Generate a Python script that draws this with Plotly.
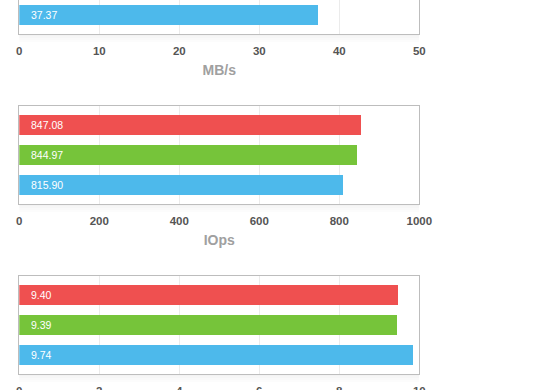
import plotly.graph_objects as go

# ---- data ----
series_colors = ["#4DB9EB", "#76C43A", "#EF5050"]  # blue (bottom), green, red (top)

mbps_values = [37.37]
mbps_labels = ["37.37"]

iops_values = [809, 844, 854]
iops_labels = ["815.90", "844.97", "847.08"]

lat_values = [9.84, 9.44, 9.47]
lat_labels = ["9.74", "9.39", "9.40"]

x_ranges = [[0, 50], [0, 1000], [0, 10]]
x_dticks = [10, 200, 2]
x_titles = ["MB/s", "IOps", ""]

W, H = 560, 390
FONT = "Liberation Sans, Arial, Helvetica, sans-serif"

def py(px):
    return 1 - px / H

x_dom = [19.3 / W, 419.3 / W]
cat_px = 29.97
y_doms = [[py(34.3), 1.0], [py(204.0), py(105.7)], [py(374.0), py(275.7)]]
y_ranges = [[-0.64, -0.64 + 34.3 / cat_px], [-0.64, 2.64], [-0.64, 2.64]]

fig = go.Figure()
datasets = [(mbps_values, mbps_labels), (iops_values, iops_labels), (lat_values, lat_labels)]
annotations = []
shapes = []
for i, (vals, labs) in enumerate(datasets):
    xa = "x" if i == 0 else f"x{i+1}"
    ya = "y" if i == 0 else f"y{i+1}"
    cats = list(range(len(vals)))
    fig.add_trace(go.Bar(
        x=vals, y=cats, orientation="h",
        marker=dict(color=series_colors[:len(vals)], line=dict(width=0)),
        width=0.667, xaxis=xa, yaxis=ya, hoverinfo="skip", showlegend=False,
    ))
    for c, lab in zip(cats, labs):
        annotations.append(dict(
            x=0, y=c, xref=xa, yref=ya, text=lab, showarrow=False,
            xanchor="left", yanchor="middle", xshift=10,
            font=dict(family=FONT, size=10.5, color="white"),
        ))
    key = "" if i == 0 else str(i + 1)
    fig.layout["xaxis" + key] = dict(
        domain=x_dom, range=x_ranges[i], dtick=x_dticks[i], tick0=0,
        anchor=ya, showgrid=True, gridcolor="#EBEBEB", gridwidth=1,
        zeroline=False, showline=True, linecolor="#BDBDBD", linewidth=1,
        mirror=(i != 0), ticks="outside", ticklen=6, tickcolor="rgba(0,0,0,0)",
        tickfont=dict(family=FONT, size=11.5, color="#555555", weight="bold"),
        title=dict(text=x_titles[i], standoff=9,
                   font=dict(family=FONT, size=14, color="#A0A0A0", weight="bold")),
        fixedrange=True, automargin=False,
    )
    fig.layout["yaxis" + key] = dict(
        domain=y_doms[i], range=y_ranges[i], anchor=xa,
        showgrid=False, zeroline=False, showticklabels=False,
        showline=True, linecolor="#BDBDBD", linewidth=1, mirror=True,
        fixedrange=True, automargin=False,
    )
    # soft shadow under the box
    yb = y_doms[i][0]
    for k in range(1, 5):
        shapes.append(dict(
            type="rect", xref="paper", yref="paper", layer="below",
            x0=x_dom[0], x1=x_dom[1], y0=yb - 2 * k / H, y1=yb,
            fillcolor="rgba(0,0,0,0.012)", line=dict(width=0),
        ))

fig.update_layout(
    width=W, height=H, margin=dict(l=0, r=0, t=0, b=0),
    paper_bgcolor="white", plot_bgcolor="white",
    annotations=annotations, shapes=shapes, bargap=0,
)
fig.write_html(
    "out.html",
    config={"displayModeBar": False, "staticPlot": True},
    post_script="document.body.style.margin='0';document.body.style.overflow='hidden';",
)
